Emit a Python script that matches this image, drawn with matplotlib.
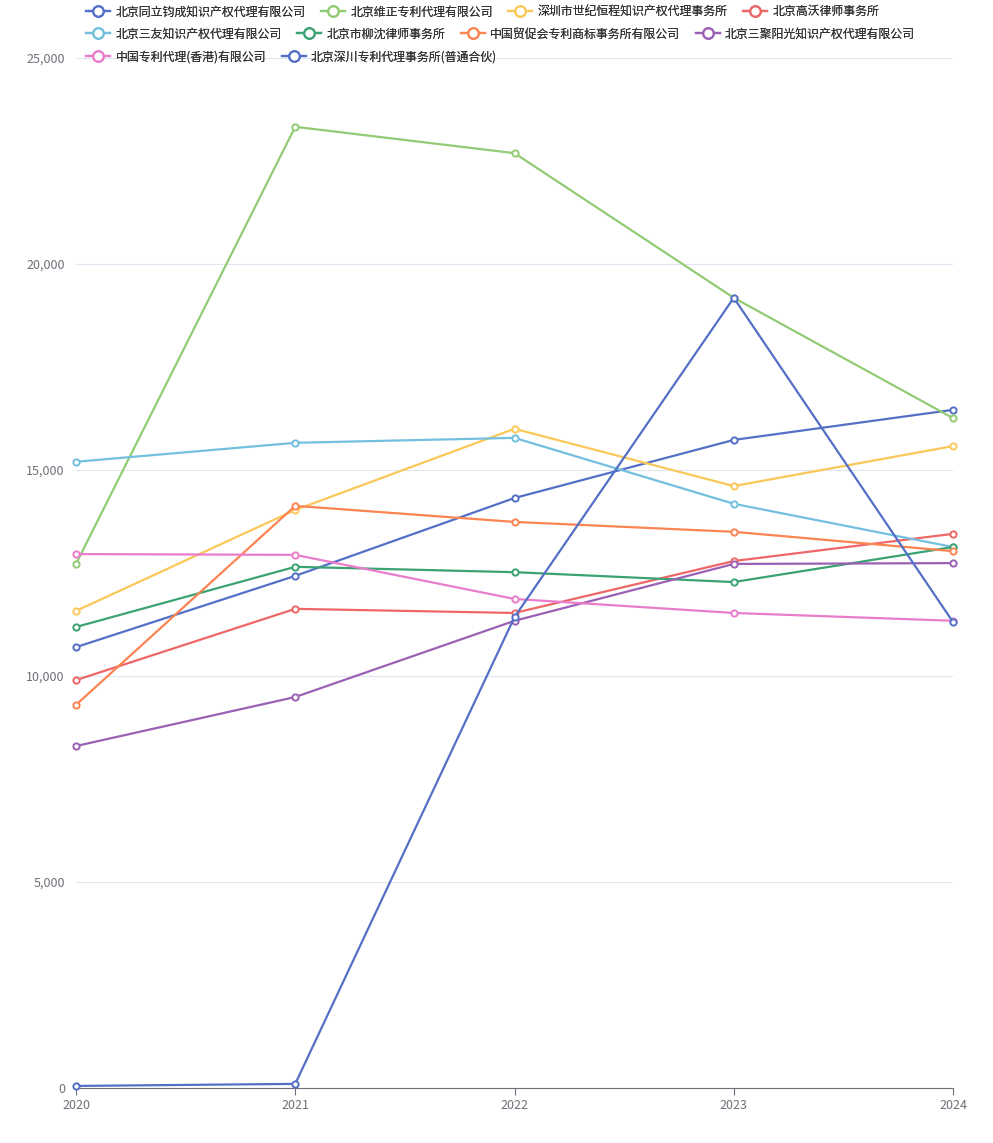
import matplotlib
matplotlib.use("Agg")
import matplotlib.pyplot as plt
from matplotlib.lines import Line2D
from matplotlib.ticker import FuncFormatter

plt.rcParams['font.family'] = ['Noto Sans CJK SC', 'DejaVu Sans']

years = ['2020', '2021', '2022', '2023', '2024']

names = [
    '北京同立钧成知识产权代理有限公司',
    '北京维正专利代理有限公司',
    '深圳市世纪恒程知识产权代理事务所',
    '北京高沃律师事务所',
    '北京三友知识产权代理有限公司',
    '北京市柳沈律师事务所',
    '中国贸促会专利商标事务所有限公司',
    '北京三聚阳光知识产权代理有限公司',
    '中国专利代理(香港)有限公司',
    '北京深川专利代理事务所(普通合伙)',
]

tongli = [10700, 12430, 14320, 15730, 16460]
weizheng = [12720, 23330, 22690, 19180, 16260]
shiji = [11580, 14030, 16000, 14610, 15580]
gaowo = [9900, 11630, 11530, 12790, 13450]
sanyou = [15200, 15660, 15780, 14180, 13130]
liushen = [11190, 12650, 12520, 12280, 13130]
maocu = [9300, 14130, 13740, 13500, 13030]
sanju = [8300, 9490, 11340, 12720, 12740]
zhongzhuan = [12960, 12940, 11870, 11530, 11340]
shenchuan = [50, 100, 11430, 19180, 11310]

series = [tongli, weizheng, shiji, gaowo, sanyou, liushen, maocu, sanju, zhongzhuan, shenchuan]
colors = ['#5470c6', '#91cc75', '#fac858', '#ee6666', '#73c0de',
          '#3ba272', '#fc8452', '#9a60b4', '#ea7ccc', '#5470c6']

fig = plt.figure(figsize=(9.93, 11.43), dpi=100)
ax = fig.add_axes([76 / 993, 55 / 1143, 877 / 993, 1030 / 1143])

x = list(range(len(years)))
for vals, c, name in zip(series, colors, names):
    ax.plot(x, vals, color=c, lw=1.6, marker='o', ms=4.5, mfc='white',
            mec=c, mew=1.4, label=name, clip_on=False, zorder=3)

ax.set_xlim(0, 4)
ax.set_ylim(0, 25000)
ax.set_xticks(x)
ax.set_xticklabels(years)
ax.set_yticks([0, 5000, 10000, 15000, 20000, 25000])
ax.yaxis.set_major_formatter(FuncFormatter(lambda v, p: f'{int(v):,}'))
ax.grid(axis='y', color='#e0e6f1', lw=0.8)
ax.set_axisbelow(True)
for s in ['top', 'right', 'left']:
    ax.spines[s].set_visible(False)
ax.spines['bottom'].set_color('#6e7079')
ax.tick_params(axis='y', length=0, labelsize=9, labelcolor='#6e7079', pad=8)
ax.tick_params(axis='x', length=5, color='#6e7079', labelsize=9, labelcolor='#6e7079', pad=3)

# legend rows, left aligned like the reference
handles = [Line2D([0], [0], color=c, lw=1.6, marker='o', ms=7.5, mfc='white', mec=c, mew=1.6)
           for c in colors]
rows = [(0, 4), (4, 8), (8, 10)]
row_y = [1143 + 3, 1143 - 19, 1143 - 42]
for (a, b), yy in zip(rows, row_y):
    leg = fig.legend(handles[a:b], names[a:b], loc='upper left',
                     bbox_to_anchor=(78 / 993, yy / 1143), ncol=b - a,
                     frameon=False, fontsize=8.6, handlelength=2.0,
                     handletextpad=0.45, columnspacing=1.3, borderpad=0.2,
                     labelcolor='#333333')
    fig.add_artist(leg)

fig.savefig('out.png', dpi=100)
